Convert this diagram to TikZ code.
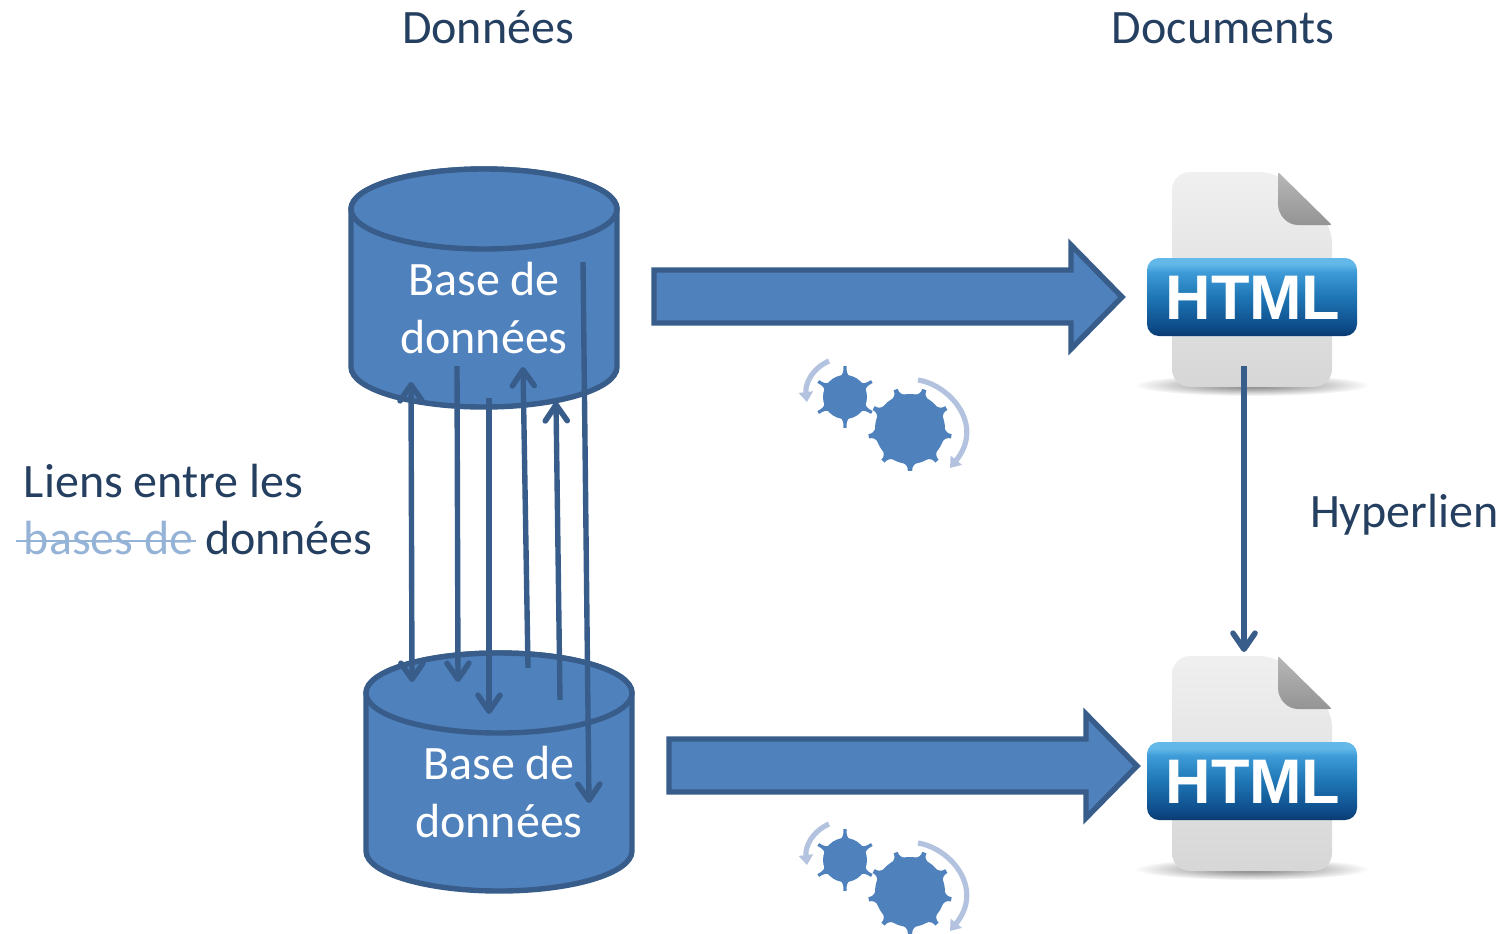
\documentclass[tikz,border=0pt]{standalone}
\usepackage{fontspec}
\setmainfont{Carlito}
\newfontfamily\badgefont{Liberation Sans}
\usetikzlibrary{arrows.meta,calc}
\definecolor{fillblue}{HTML}{4F81BD}
\definecolor{edgeblue}{HTML}{385D8A}
\definecolor{navy}{HTML}{243F60}
\definecolor{pale}{HTML}{B3C3DF}
\definecolor{strike}{HTML}{95B3D7}
\definecolor{badgeB}{HTML}{0A3A70}
\definecolor{badgeC}{HTML}{0E4C8A}
\definecolor{badgeD}{HTML}{1F76B5}
\definecolor{badgeE}{HTML}{3E9BD8}
\definecolor{badgeF}{HTML}{62B8E8}
\pgfdeclareverticalshading{badgeshade}{100bp}{
  color(0bp)=(badgeB); color(25bp)=(badgeB); color(31bp)=(badgeC); color(50bp)=(badgeD);
  color(66bp)=(badgeE); color(71bp)=(badgeF); color(75bp)=(badgeF); color(100bp)=(badgeF)}
\tikzset{
  x=0.5pt,y=-0.5pt,
  every node/.style={inner sep=0pt,outer sep=0pt},
  barb/.tip={Straight Barb[length=8pt,width=11pt,line width=2.8pt,round]},
  cyl/.style={fill=fillblue,draw=edgeblue,line width=2.7pt},
  bigarrow/.style={fill=fillblue,draw=edgeblue,line width=2.7pt,miter limit=10},
  linkarrow/.style={draw=edgeblue,line width=2.7pt,-barb},
  titletext/.style={text=navy,font=\fontsize{24}{28}\selectfont,anchor=base},
  labeltext/.style={text=navy,font=\fontsize{24}{28}\selectfont,anchor=base west},
  dbtext/.style={text=white,font=\fontsize{24}{28}\selectfont,anchor=base},
  spin/.style={draw=pale,line width=2.6pt,-{Triangle[length=5pt,width=7pt]}},
  pics/gear/.style n args={3}{code={
    \fill[fillblue] (0,0) circle[radius=#1];
    \foreach \i in {1,...,#3}{
      \pgfmathsetmacro{\a}{90+(\i-1)*360/#3}
      \fill[fillblue] (\a-14:#1-1) .. controls (\a-5:#1+1) and (\a-3:#1+3) .. (\a-3:#2)
        -- (\a+3:#2) .. controls (\a+3:#1+3) and (\a+5:#1+1) .. (\a+14:#1-1) -- cycle;
    }
  }},
  pics/cylinder/.style={code={
    \path[cyl] (-133,-79) arc[start angle=180,end angle=360,x radius=133,y radius=40]
      -- (133,79) arc[start angle=0,end angle=180,x radius=133,y radius=40] -- cycle;
    \path[cyl] (0,-79) ellipse[x radius=133,y radius=40];
  }},
  pics/htmlfile/.style={code={
    \shade[inner color=black!55,outer color=white] (0,88) ellipse[x radius=118,y radius=11];
    \shade[top color=white!94!black,bottom color=white!84!black,rounded corners=9pt]
      (-80,-125) -- (26,-125) -- (80,-72) -- (80,90) -- (-80,90) -- cycle;
    \shade[top color=black!28,bottom color=black!42,rounded corners=1pt]
      (26,-125) -- (80,-72) -- (48,-72) .. controls (35,-72) and (26,-82) .. (26,-95) -- cycle;
    \path[shading=badgeshade,rounded corners=6pt] (-105,-39) rectangle (105,39);
  }}
}
\begin{document}
\begin{tikzpicture}
\clip (0,0) rectangle (1501,933);
\useasboundingbox (0,0) rectangle (1501,933);

% titles
\node[titletext] (tData) at (488,43) {Données};
\node[titletext] (tDoc) at (1223,43) {Documents};

% cylinders
\pic at (484,288) {cylinder};
\pic at (499,772) {cylinder};
\node[dbtext] (db1a) at (484,295) {Base de};
\node[dbtext] (db1b) at (484,353) {données};
\node[dbtext] (db2a) at (499,779) {Base de};
\node[dbtext] (db2b) at (499,837) {données};

% block arrows
\path[bigarrow] (654,270) -- (1071,270) -- (1071,245) -- (1122,297) -- (1071,349) -- (1071,323) -- (654,323) -- cycle;
\path[bigarrow] (669,739) -- (1086,739) -- (1086,714) -- (1137,766) -- (1086,818) -- (1086,792) -- (669,792) -- cycle;

% html icons
\pic at (1252,297) {htmlfile};
\pic at (1252,781) {htmlfile};
\node[text=white,font=\badgefont\bfseries\fontsize{31.5}{36}\selectfont,anchor=base] (h1) at (1253,319) {HTML};
\node[text=white,font=\badgefont\bfseries\fontsize{31.5}{36}\selectfont,anchor=base] (h2) at (1253,803) {HTML};

% links between databases
\coordinate (a1) at (412,682); \coordinate (a1t) at (411,382);
\coordinate (a2s) at (457,366); \coordinate (a2e) at (458,682);
\coordinate (a3s) at (489,398); \coordinate (a3e) at (489,714);
\coordinate (a4s) at (528,668); \coordinate (a4e) at (523,367);
\coordinate (a5s) at (560,700); \coordinate (a5e) at (556,402);
\coordinate (a6s) at (583,262); \coordinate (a6e) at (589,803);
\draw[linkarrow,barb-barb] (a1t) -- (a1);
\draw[linkarrow] (a2s) -- (a2e);
\draw[linkarrow] (a3s) -- (a3e);
\draw[linkarrow] (a4s) -- (a4e);
\draw[linkarrow] (a5s) -- (a5e);
\draw[linkarrow] (a6s) -- (a6e);

% hyperlink
\coordinate (h1bot) at (1244,366);
\coordinate (h2top) at (1244,652);
\draw[linkarrow] (h1bot) -- (h2top);
\node[labeltext] (hyper) at (1310,527) {Hyperlien};

% left label
\node[labeltext] (l1) at (24,497) {Liens entre les};
\node[labeltext,text=strike] (l2) at (24,554) {bases de};
\node[labeltext] (l3) at (205,554) {données};
\coordinate (s1) at (16,541); \coordinate (s2) at (196,541);
\draw[strike,line width=1.4pt] (s1) -- (s2);

% gears
\pic at (845,397) {gear={22}{31}{6}};
\pic at (910,429) {gear={35}{42}{9}};
\draw[spin] (829,361) .. controls (811,369) and (805,385) .. (807,402);
\draw[spin] (918,380) .. controls (950,385) and (985,425) .. (950,468);
\pic at (845,860) {gear={22}{31}{6}};
\pic at (910,892) {gear={35}{42}{9}};
\draw[spin] (829,824) .. controls (811,832) and (805,848) .. (807,865);
\draw[spin] (918,843) .. controls (950,848) and (985,888) .. (950,931);
\end{tikzpicture}
\end{document}
